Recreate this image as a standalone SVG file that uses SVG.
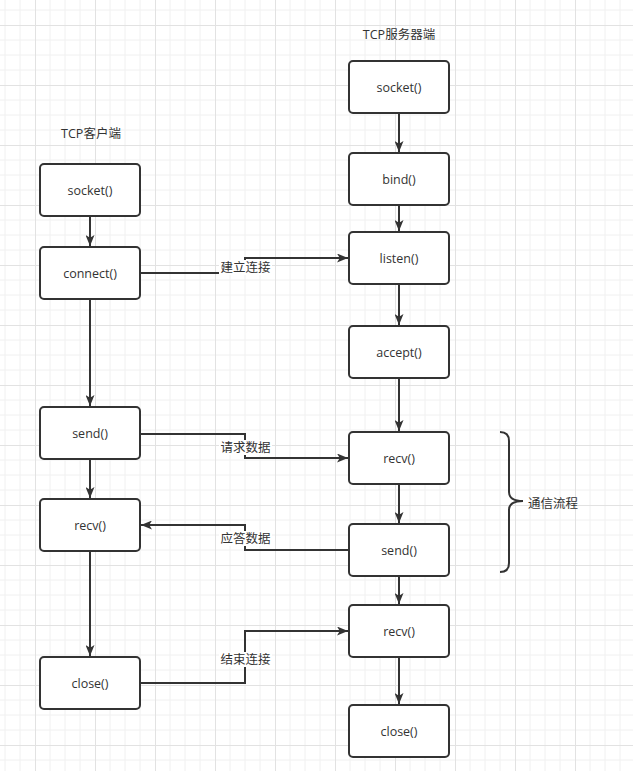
<svg xmlns="http://www.w3.org/2000/svg" width="633" height="771" viewBox="0 0 633 771">
<defs>
<pattern id="grid" x="35" y="25" width="60" height="60" patternUnits="userSpaceOnUse">
<path d="M15 0V60M30 0V60M45 0V60M0 15H60M0 30H60M0 45H60" stroke="#f0f0f0" stroke-width="1" fill="none"/>
<path d="M0.5 0V60M0 0.5H60" stroke="#e2e2e2" stroke-width="1" fill="none"/>
</pattern>
<marker id="arr" markerWidth="11" markerHeight="9" refX="11" refY="4.5" orient="auto" markerUnits="userSpaceOnUse">
<path d="M0 0L11 4.5L0 9L2.8 4.5Z" fill="#333"/>
</marker>
<style>
.n rect{fill:#fff;stroke:#333;stroke-width:2}
.n text,.t{font-family:"Open Sans","Noto Sans CJK SC",sans-serif;font-size:12.5px;fill:#333;text-anchor:middle;dominant-baseline:central}
.e{fill:none;stroke:#333;stroke-width:2}
.lb{fill:#fff}
</style>
</defs>
<rect width="633" height="771" fill="#fff"/>
<rect width="633" height="771" fill="url(#grid)"/>

<g id="connectors">
<path class="e" d="M90 216V246" marker-end="url(#arr)"/>
<path class="e" d="M90 299V406" marker-end="url(#arr)"/>
<path class="e" d="M90 459V498" marker-end="url(#arr)"/>
<path class="e" d="M90 551V656" marker-end="url(#arr)"/>
<path class="e" d="M399 113V152" marker-end="url(#arr)"/>
<path class="e" d="M399 205V231" marker-end="url(#arr)"/>
<path class="e" d="M399 284V325" marker-end="url(#arr)"/>
<path class="e" d="M399 378V431" marker-end="url(#arr)"/>
<path class="e" d="M399 484V523" marker-end="url(#arr)"/>
<path class="e" d="M399 576V604" marker-end="url(#arr)"/>
<path class="e" d="M399 657V704" marker-end="url(#arr)"/>
<path class="e" d="M140 273H245V258H348" marker-end="url(#arr)"/>
<path class="e" d="M140 434H245V458H348" marker-end="url(#arr)"/>
<path class="e" d="M349 550H245V525H141" marker-end="url(#arr)"/>
<path class="e" d="M140 683H245V631H348" marker-end="url(#arr)"/>
<rect class="lb" x="219" y="260" width="53" height="15"/>
<text class="t" x="245.500" y="267.500">建立连接</text>
<rect class="lb" x="219" y="440" width="53" height="15"/>
<text class="t" x="245.500" y="447.500">请求数据</text>
<rect class="lb" x="219" y="531" width="53" height="15"/>
<text class="t" x="245.500" y="538.500">应答数据</text>
<rect class="lb" x="219" y="652" width="53" height="15"/>
<text class="t" x="245.500" y="659.500">结束连接</text>
</g>

<text class="t" x="91" y="133">TCP客户端</text>
<text class="t" x="399" y="34">TCP服务器端</text>

<g id="c-socket" class="n"><rect x="40" y="164" width="100" height="52" rx="4"/><text x="90" y="190">socket()</text></g>
<g id="c-connect" class="n"><rect x="40" y="247" width="100" height="52" rx="4"/><text x="90" y="273">connect()</text></g>
<g id="c-send" class="n"><rect x="40" y="407" width="100" height="52" rx="4"/><text x="90" y="433">send()</text></g>
<g id="c-recv" class="n"><rect x="40" y="499" width="100" height="52" rx="4"/><text x="90" y="525">recv()</text></g>
<g id="c-close" class="n"><rect x="40" y="657" width="100" height="52" rx="4"/><text x="90" y="683">close()</text></g>

<g id="s-socket" class="n"><rect x="349" y="61" width="100" height="52" rx="4"/><text x="399" y="87">socket()</text></g>
<g id="s-bind" class="n"><rect x="349" y="153" width="100" height="52" rx="4"/><text x="399" y="179">bind()</text></g>
<g id="s-listen" class="n"><rect x="349" y="232" width="100" height="52" rx="4"/><text x="399" y="258">listen()</text></g>
<g id="s-accept" class="n"><rect x="349" y="326" width="100" height="52" rx="4"/><text x="399" y="352">accept()</text></g>
<g id="s-recv" class="n"><rect x="349" y="432" width="100" height="52" rx="4"/><text x="399" y="458">recv()</text></g>
<g id="s-send" class="n"><rect x="349" y="524" width="100" height="52" rx="4"/><text x="399" y="550">send()</text></g>
<g id="s-recv2" class="n"><rect x="349" y="605" width="100" height="52" rx="4"/><text x="399" y="631">recv()</text></g>
<g id="s-close" class="n"><rect x="349" y="705" width="100" height="52" rx="4"/><text x="399" y="731">close()</text></g>

<g id="brace">
<path d="M500 432Q509 432 509 441V492Q509 501 523 501Q509 501 509 510V563Q509 572 500 572" fill="none" stroke="#333" stroke-width="2"/>
<text class="t" x="553" y="503">通信流程</text>
</g>
</svg>
